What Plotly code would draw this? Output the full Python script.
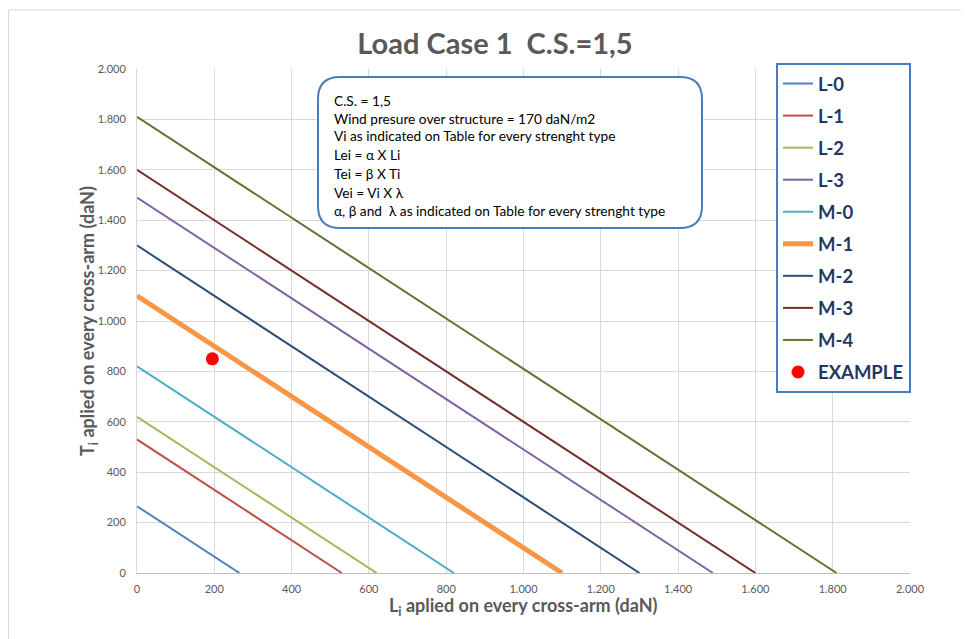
import plotly.graph_objects as go

# ---- data ----
series_names = ["L-0", "L-1", "L-2", "L-3", "M-0", "M-1", "M-2", "M-3", "M-4"]
series_limits = [265, 530, 620, 1490, 820, 1100, 1300, 1600, 1810]  # intercept on both axes (daN)
series_colors = ["#4F81BD", "#C0504D", "#9BBB59", "#8064A2", "#4BACC6",
                 "#F79646", "#2C4D75", "#772C2A", "#5F7530"]
series_widths = [2, 2, 2, 2, 2, 5, 2, 2, 2]
example_name = "EXAMPLE"
example_x = [195]
example_y = [850]

info_lines = [
    "C.S. = 1,5",
    "Wind presure over structure = 170 daN/m2",
    "Vi as indicated on Table for every strenght type",
    "Lei = α X Li",
    "Tei = β X Ti",
    "Vei = Vi X λ",
    "α, β and  λ as indicated on Table for every strenght type",
]
title_text = "Load Case 1\u00a0\u00a0C.S.=1,5"
x_title = "L<sub>i</sub> aplied on every cross-arm (daN)"
y_title = "T<sub>i</sub> aplied on every cross-arm (daN)"

# layout geometry (page pixel coords; page has an 8px body offset)
W, H = 969, 639
OFF = 8
P_L, P_R, P_T, P_B = 137, 910, 69, 573
ML, MT = P_L - OFF, P_T - OFF
MR, MB = W - (P_R - OFF), H - (P_B - OFF)
PW, PH = P_R - P_L, P_B - P_T


def px(xp):
    return (xp - P_L) / PW


def py(yp):
    return (P_B - yp) / PH


FONT = "Lato"
GRAY = "#595959"

fig = go.Figure()
for n, v, c, w in zip(series_names, series_limits, series_colors, series_widths):
    fig.add_trace(go.Scatter(x=[0, v], y=[v, 0], mode="lines", name=n,
                             line=dict(color=c, width=w), legendgroup=n))
fig.add_trace(go.Scatter(x=example_x, y=example_y, mode="markers", name=example_name,
                         marker=dict(color="#FF0000", size=13), legendgroup=example_name))

# rounded info box
x0, x1, y0, y1 = 318, 702, 77, 228
r = 22
path = (f"M {px(x0 + r)},{py(y0)} L {px(x1 - r)},{py(y0)} "
        f"Q {px(x1)},{py(y0)} {px(x1)},{py(y0 + r)} "
        f"L {px(x1)},{py(y1 - r)} Q {px(x1)},{py(y1)} {px(x1 - r)},{py(y1)} "
        f"L {px(x0 + r)},{py(y1)} Q {px(x0)},{py(y1)} {px(x0)},{py(y1 - r)} "
        f"L {px(x0)},{py(y0 + r)} Q {px(x0)},{py(y0)} {px(x0 + r)},{py(y0)} Z")
shapes = [
    dict(type="rect", xref="paper", yref="paper", x0=px(8.5), x1=px(1000), y0=py(10), y1=py(700),
         line=dict(color="#D9D9D9", width=1), fillcolor="rgba(0,0,0,0)", layer="below"),
    dict(type="path", xref="paper", yref="paper", path=path,
         line=dict(color="#4A7EBB", width=2), fillcolor="white", layer="above"),
]

annotations = []
line_y = [100, 118, 136, 155, 173, 192, 210]
for t, yy in zip(info_lines, line_y):
    annotations.append(dict(xref="paper", yref="paper", x=px(332), y=py(yy), text=t,
                            showarrow=False, xanchor="left", yanchor="middle",
                            font=dict(family=FONT, size=13.7, color="#000000")))
annotations.append(dict(xref="paper", yref="paper", x=px(523), y=py(606), text=x_title,
                        showarrow=False, xanchor="center", yanchor="middle",
                        font=dict(family=FONT, size=18, color=GRAY, weight="bold")))
annotations.append(dict(xref="paper", yref="paper", x=px(88), y=py(321), text=y_title,
                        showarrow=False, xanchor="center", yanchor="middle", textangle=-90,
                        font=dict(family=FONT, size=18, color=GRAY, weight="bold")))

fig.update_layout(
    width=W, height=H,
    margin=dict(l=ML, r=MR, t=MT, b=MB, autoexpand=False),
    paper_bgcolor="white", plot_bgcolor="white",
    separators=",.",
    title=dict(text=title_text, x=(495 - OFF) / W, xanchor="center",
               y=1 - (44 - OFF) / H, yanchor="middle",
               font=dict(family=FONT, size=29, color=GRAY, weight="bold")),
    xaxis=dict(range=[0, 2000], dtick=200, separatethousands=True, showgrid=True,
               gridcolor="#D9D9D9", gridwidth=1, zeroline=False, showline=True,
               linecolor="#BFBFBF", linewidth=1, ticks="", ticklabelstandoff=6,
               automargin=False,
               tickfont=dict(family=FONT, size=11, color=GRAY)),
    yaxis=dict(range=[0, 2000], dtick=200, separatethousands=True, showgrid=True,
               gridcolor="#D9D9D9", gridwidth=1, zeroline=False, showline=True,
               linecolor="#D9D9D9", linewidth=1, ticks="", ticklabelstandoff=8,
               automargin=False,
               tickfont=dict(family=FONT, size=11, color=GRAY)),
    legend=dict(x=px(911), xanchor="right", y=py(63), yanchor="top",
                bgcolor="white", bordercolor="#4A7EBB", borderwidth=2,
                font=dict(family=FONT, size=18.5, color="#1F3864", weight="bold"),
                tracegroupgap=5, itemwidth=30, maxheight=1.0),
    shapes=shapes,
    annotations=annotations,
    showlegend=True,
)

fig.write_html("out.html")
